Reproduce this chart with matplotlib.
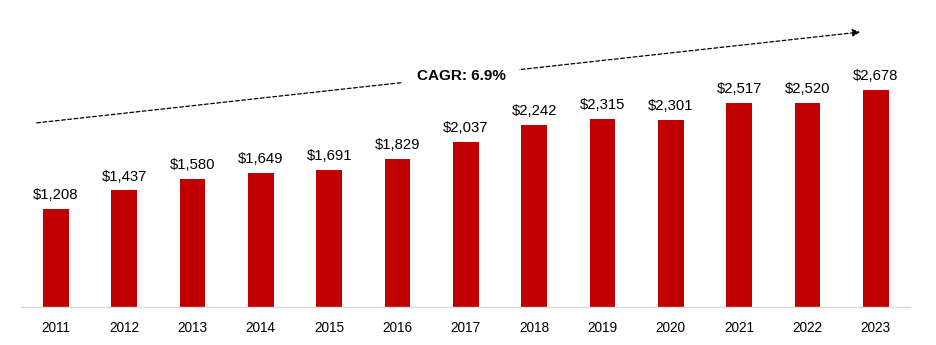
import matplotlib.pyplot as plt
import numpy as np

plt.rcParams['font.family'] = ['Liberation Sans', 'DejaVu Sans']

years = ['2011', '2012', '2013', '2014', '2015', '2016', '2017',
         '2018', '2019', '2020', '2021', '2022', '2023']
values = [1208, 1437, 1580, 1649, 1691, 1829, 2037,
          2242, 2315, 2301, 2517, 2520, 2678]
cagr_label = 'CAGR: 6.9%'

fig = plt.figure(figsize=(9.37, 3.45), dpi=100)
ax = fig.add_axes([21/937, 38/345, 889/937, 307/345])

x = np.arange(len(years))
bars = ax.bar(x, values, width=0.38, color='#C00000', zorder=2)

for xi, v in zip(x, values):
    ax.annotate('${:,}'.format(v), (xi, v), xytext=(0, 5), textcoords='offset points',
                ha='center', va='bottom', fontsize=10.7, color='#000000')

ax.set_xlim(-0.51, 12.5)
ax.set_ylim(0, 3785)
ax.set_xticks(x)
ax.set_xticklabels(years, fontsize=9.8)
ax.tick_params(axis='x', length=0, pad=10)
ax.set_yticks([])
for s in ['top', 'right', 'left']:
    ax.spines[s].set_visible(False)
ax.spines['bottom'].set_color('#d9d9d9')
ax.spines['bottom'].set_linewidth(1)

# dashed trend arrow
ax.annotate('', xy=(11.77, 3390), xytext=(-0.28, 2270),
            arrowprops=dict(arrowstyle='-|>', linestyle=(0, (3, 2)), color='black',
                            lw=0.9, mutation_scale=11, shrinkA=0, shrinkB=0))
ax.text(5.93, 2850, cagr_label, ha='center', va='center', fontsize=11, fontweight='bold',
        bbox=dict(boxstyle='square,pad=0.9', facecolor='white', edgecolor='none'))

fig.savefig('out.png', dpi=100)
